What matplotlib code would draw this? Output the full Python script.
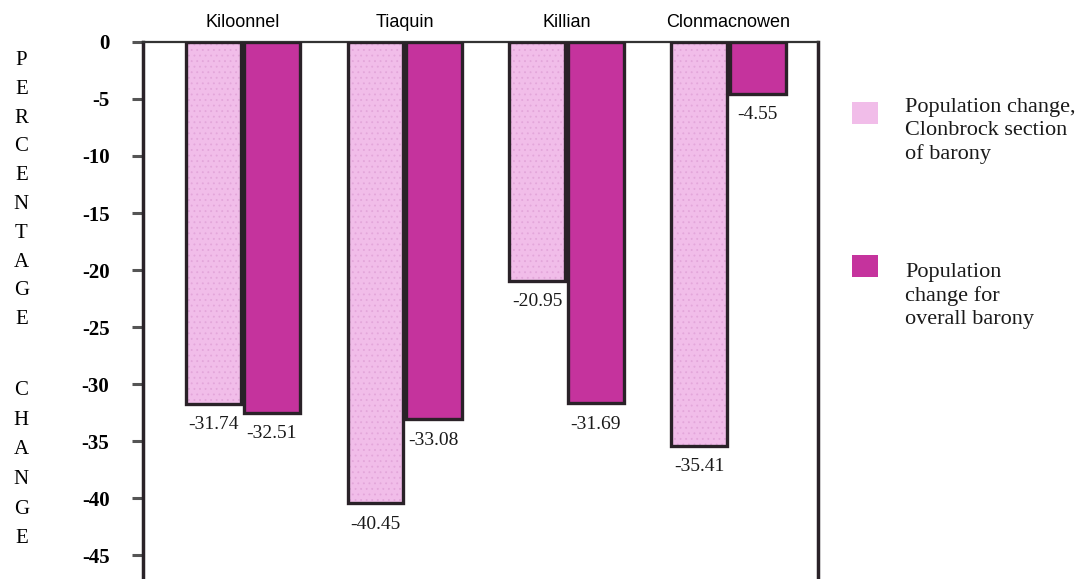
import matplotlib.pyplot as plt
import numpy as np
from matplotlib.patches import Rectangle

# ----------------------------
# Data
# ----------------------------

parishes = ["Kiloonnel", "Tiaquin", "Killian", "Clonmacnowen"]

# Population change (%), Clonbrock section of barony
clonbrock_change = [-31.74, -40.45, -20.95, -35.41]

# Population change (%) for overall barony
barony_change = [-32.51, -33.08, -31.69, -4.55]

y_ticks = [0, -5, -10, -15, -20, -25, -30, -35, -40, -45]

legend_labels = [
    "Population change,\nClonbrock section\nof barony",
    "Population\nchange for\noverall barony",
]

# ----------------------------
# Style
# ----------------------------

LIGHT = "#F1BDE9"
LIGHT_DOTS = "#E3A6DA"
DARK = "#C5339D"
EDGE = "#2a2228"
SERIF = ["Liberation Serif", "DejaVu Serif"]
SANS = ["Liberation Sans", "DejaVu Sans"]

plt.rcParams["hatch.linewidth"] = 0.6

fig = plt.figure(figsize=(10.9, 5.79), dpi=100)
ax = fig.add_axes([0.131, 0.0, 0.619, 0.9275])

x = np.arange(len(parishes))
width = 0.345
offset = 0.18

# light bars: faint dotted fill first, outline on top
ax.bar(x - offset, clonbrock_change, width, color=LIGHT,
       edgecolor=LIGHT_DOTS, linewidth=0, hatch="...", zorder=2)
bars_light = ax.bar(x - offset, clonbrock_change, width, fill=False,
                    edgecolor=EDGE, linewidth=2.4, zorder=3)
bars_dark = ax.bar(x + offset, barony_change, width,
                   color=DARK, edgecolor=EDGE, linewidth=2.4, zorder=3)

# value labels under each bar
for bars in (bars_light, bars_dark):
    for b in bars:
        val = b.get_height()
        ax.annotate(f"{val:.2f}",
                    xy=(b.get_x() + b.get_width() / 2, val),
                    xytext=(0, -9), textcoords="offset points",
                    ha="center", va="top",
                    fontsize=14, family=SERIF, color="#1a1a1a")

ax.set_ylim(-47.1, 0)
ax.set_xlim(-0.617, 3.55)

ax.set_yticks(y_ticks)
ax.set_yticklabels([str(t) for t in y_ticks],
                   fontsize=15, fontweight="bold", family=SERIF)
ax.tick_params(axis="y", direction="out", length=8, width=2.2,
               color="#555555", pad=16)

# parish names along the top
ax.xaxis.tick_top()
ax.set_xticks(x)
ax.set_xticklabels(parishes, fontsize=13, family=SANS)
ax.tick_params(axis="x", length=0, pad=8)

for side in ("left", "right"):
    ax.spines[side].set_linewidth(2.5)
    ax.spines[side].set_color(EDGE)
ax.spines["top"].set_linewidth(1.6)
ax.spines["top"].set_color("#333333")
ax.spines["bottom"].set_visible(False)

# stacked vertical axis title
fig.text(0.0195, 1 - 51 / 579, "\n".join("PERCENTAGE"), ha="center",
         va="top", fontsize=15, family=SERIF, linespacing=1.70)
fig.text(0.0195, 1 - 381 / 579, "\n".join("CHANGE"), ha="center",
         va="top", fontsize=15, family=SERIF, linespacing=1.76)

# legend drawn to the right of the plot
legend_colors = [LIGHT, DARK]
legend_box_tops = [102, 255]
legend_text_mid = [131, 296]
for label, col, top, mid in zip(legend_labels, legend_colors,
                                legend_box_tops, legend_text_mid):
    fig.patches.append(Rectangle((852 / 1090, 1 - (top + 22) / 579),
                                 26 / 1090, 22 / 579,
                                 transform=fig.transFigure,
                                 facecolor=col, edgecolor="none"))
    fig.text(905 / 1090, 1 - mid / 579, label, ha="left", va="center",
             fontsize=16, family=SERIF, linespacing=1.25, color="#1a1a1a")

fig.savefig("out.png", dpi=100)
